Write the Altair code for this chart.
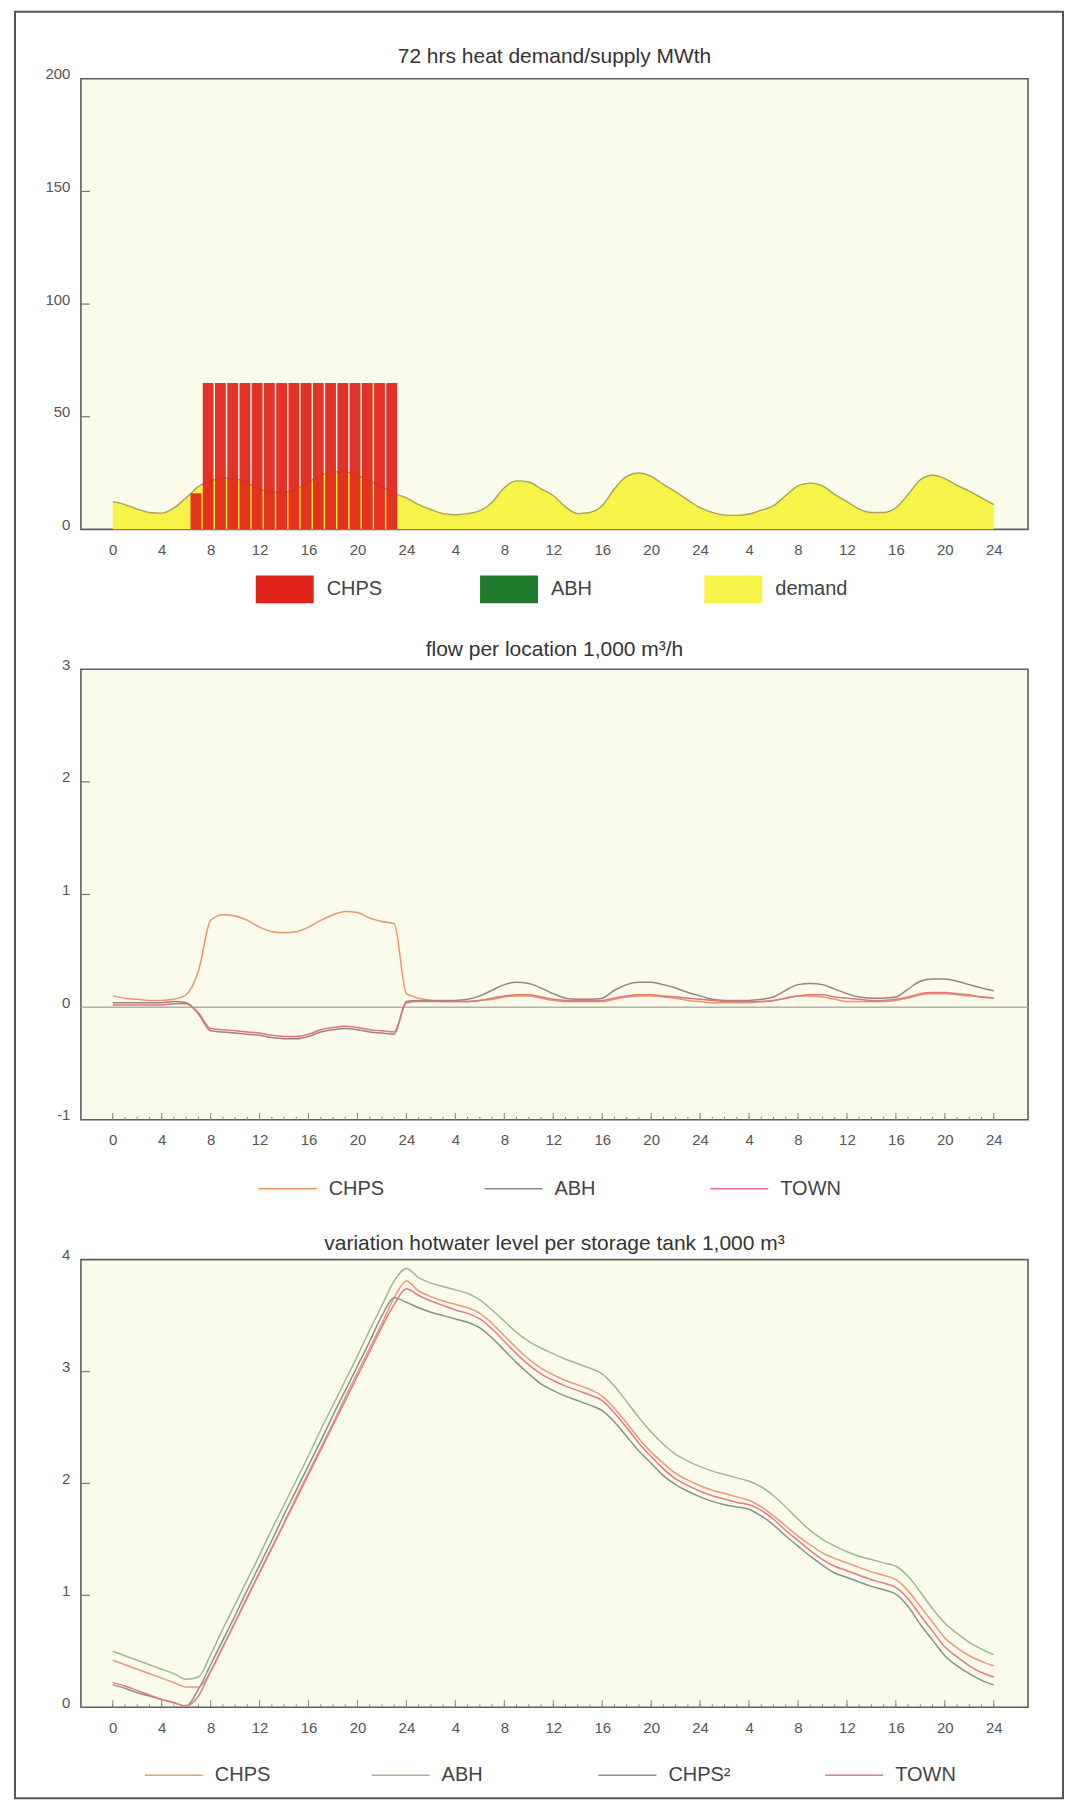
import altair as alt
import pandas as pd

FONT = "Liberation Sans"

# ---------------- data ----------------
hours = list(range(73))
tick_hours = [0, 4, 8, 12, 16, 20, 24, 28, 32, 36, 40, 44, 48, 52, 56, 60, 64, 68, 72]

titles = ["72 hrs heat demand/supply MWth",
          "flow per location 1,000 m\u00b3/h",
          "variation hotwater level per storage tank 1,000 m\u00b3"]

# panel 1: heat demand (MWth) per hour and CHPS supply blocks
demand_mw = [12.3, 11, 9, 7.5, 7.2, 9.5, 14, 19, 21.5, 22.8, 22.5, 20.5, 18, 16.5, 16.5, 18, 21, 24, 25.5, 25.5, 24, 21.5, 19, 16, 14,
             11, 8.8, 7, 6.5, 7, 8.2, 12, 18.5, 21.5, 21, 18, 15, 10, 7, 7.5, 10.5, 18, 23.5, 25, 23.5, 20, 16.7, 13, 9.6,
             7.5, 6.3, 6.2, 6.8, 8.5, 10.5, 15, 19.3, 20.5, 19.3, 15.5, 12.3, 9, 7.5, 7.5, 9.6, 15.5, 22, 24, 22.5, 19.5, 17, 14, 11]
chps_start = [6.3, 7.3, 8.3, 9.3, 10.3, 11.3, 12.3, 13.3, 14.3, 15.3, 16.3, 17.3, 18.3, 19.3, 20.3, 21.3, 22.3]
chps_mw = [16, 65, 65, 65, 65, 65, 65, 65, 65, 65, 65, 65, 65, 65, 65, 65, 65]
supply_names = ["CHPS", "ABH", "demand"]
supply_colors = ["#e1231a", "#1f7a2c", "#f6f448"]

# panel 2: flow per location (1,000 m3/h)
flow_names = ["CHPS", "ABH", "TOWN"]
flow_colors = ["#ea956a", "#98847e", "#e27482"]
flow_chps = [0.10, 0.08, 0.07, 0.06, 0.06, 0.07, 0.11, 0.32, 0.77, 0.82, 0.81, 0.77, 0.71, 0.67, 0.66, 0.67, 0.71, 0.77, 0.82, 0.85, 0.84, 0.79, 0.76, 0.74, 0.12,
             0.08, 0.06, 0.05, 0.05, 0.05, 0.06, 0.07, 0.09, 0.10, 0.10, 0.08, 0.06, 0.05, 0.05, 0.05, 0.05, 0.07, 0.09, 0.10, 0.10, 0.09, 0.08, 0.06, 0.05,
             0.04, 0.04, 0.04, 0.04, 0.05, 0.06, 0.08, 0.10, 0.10, 0.09, 0.07, 0.05, 0.05, 0.05, 0.05, 0.06, 0.08, 0.11, 0.12, 0.12, 0.11, 0.10, 0.09, 0.08]
flow_abh = [0.04, 0.04, 0.04, 0.04, 0.04, 0.05, 0.04, -0.06, -0.21, -0.22, -0.23, -0.24, -0.25, -0.27, -0.28, -0.28, -0.26, -0.22, -0.20, -0.19, -0.20, -0.22, -0.23, -0.24, 0.05,
            0.06, 0.06, 0.06, 0.06, 0.07, 0.10, 0.15, 0.20, 0.22, 0.21, 0.17, 0.12, 0.08, 0.07, 0.07, 0.08, 0.15, 0.20, 0.22, 0.22, 0.20, 0.17, 0.13, 0.10,
            0.07, 0.06, 0.06, 0.06, 0.07, 0.09, 0.15, 0.20, 0.21, 0.20, 0.16, 0.12, 0.09, 0.08, 0.08, 0.09, 0.16, 0.23, 0.25, 0.25, 0.23, 0.20, 0.17, 0.145]
flow_town = [0.02, 0.02, 0.02, 0.02, 0.02, 0.03, 0.03, -0.05, -0.19, -0.20, -0.21, -0.22, -0.23, -0.25, -0.26, -0.26, -0.24, -0.20, -0.18, -0.17, -0.18, -0.20, -0.21, -0.22, 0.04,
             0.05, 0.05, 0.05, 0.05, 0.05, 0.06, 0.08, 0.10, 0.11, 0.11, 0.09, 0.07, 0.06, 0.06, 0.06, 0.06, 0.08, 0.10, 0.11, 0.11, 0.10, 0.09, 0.08, 0.07,
             0.06, 0.05, 0.05, 0.05, 0.05, 0.06, 0.08, 0.10, 0.11, 0.11, 0.09, 0.08, 0.07, 0.06, 0.06, 0.07, 0.09, 0.12, 0.13, 0.13, 0.12, 0.11, 0.09, 0.08]

# panel 3: hot water level per storage tank (1,000 m3)
tank_names = ["CHPS", "ABH", "CHPS\u00b2", "TOWN"]
tank_colors = ["#ea9878", "#9fb894", "#7f948a", "#e37a8c"]
tank_chps = [0.42, 0.38, 0.34, 0.30, 0.26, 0.22, 0.18, 0.18, 0.32, 0.54, 0.76, 0.99, 1.21, 1.43, 1.65, 1.88, 2.10, 2.32, 2.54, 2.77, 2.99, 3.21, 3.43, 3.66, 3.81,
             3.72, 3.67, 3.63, 3.60, 3.57, 3.52, 3.43, 3.32, 3.21, 3.11, 3.03, 2.97, 2.92, 2.88, 2.84, 2.78, 2.67, 2.54, 2.40, 2.28, 2.18, 2.09, 2.03, 1.98,
             1.94, 1.91, 1.88, 1.85, 1.79, 1.71, 1.62, 1.53, 1.45, 1.38, 1.33, 1.29, 1.25, 1.21, 1.18, 1.14, 1.04, 0.90, 0.76, 0.62, 0.53, 0.46, 0.41, 0.37]
tank_abh = [0.50, 0.46, 0.42, 0.38, 0.34, 0.30, 0.25, 0.27, 0.47, 0.70, 0.92, 1.14, 1.36, 1.59, 1.81, 2.03, 2.25, 2.48, 2.70, 2.92, 3.14, 3.37, 3.59, 3.81, 3.92,
            3.84, 3.79, 3.76, 3.73, 3.70, 3.64, 3.55, 3.45, 3.35, 3.27, 3.21, 3.16, 3.11, 3.07, 3.03, 2.98, 2.87, 2.73, 2.59, 2.46, 2.35, 2.26, 2.20, 2.15,
            2.11, 2.08, 2.05, 2.02, 1.97, 1.89, 1.79, 1.68, 1.58, 1.50, 1.44, 1.39, 1.35, 1.32, 1.29, 1.26, 1.17, 1.03, 0.88, 0.75, 0.66, 0.58, 0.52, 0.47]
tank_chps2 = [0.20, 0.17, 0.13, 0.10, 0.07, 0.04, 0.01, 0.16, 0.38, 0.60, 0.82, 1.05, 1.27, 1.49, 1.72, 1.94, 2.16, 2.38, 2.61, 2.83, 3.05, 3.27, 3.50, 3.66, 3.62,
              3.57, 3.53, 3.50, 3.47, 3.44, 3.39, 3.30, 3.19, 3.08, 2.98, 2.89, 2.83, 2.78, 2.74, 2.70, 2.65, 2.55, 2.42, 2.29, 2.18, 2.07, 1.99, 1.93, 1.88,
              1.84, 1.81, 1.79, 1.77, 1.71, 1.63, 1.53, 1.44, 1.35, 1.27, 1.20, 1.16, 1.12, 1.08, 1.05, 1.01, 0.90, 0.74, 0.60, 0.46, 0.37, 0.30, 0.24, 0.20]
tank_town = [0.22, 0.19, 0.15, 0.11, 0.07, 0.04, 0.01, 0.10, 0.32, 0.54, 0.76, 0.98, 1.20, 1.42, 1.64, 1.86, 2.08, 2.30, 2.52, 2.74, 2.96, 3.18, 3.40, 3.60, 3.74,
             3.68, 3.63, 3.59, 3.55, 3.52, 3.47, 3.38, 3.27, 3.16, 3.06, 2.98, 2.92, 2.87, 2.83, 2.79, 2.74, 2.63, 2.50, 2.36, 2.24, 2.13, 2.04, 1.98, 1.93,
             1.89, 1.86, 1.83, 1.81, 1.76, 1.68, 1.58, 1.49, 1.40, 1.32, 1.26, 1.22, 1.18, 1.14, 1.11, 1.07, 0.97, 0.82, 0.68, 0.54, 0.45, 0.37, 0.31, 0.27]

y1_ticks = [0, 50, 100, 150, 200]
y2_ticks = [-1, 0, 1, 2, 3]
y3_ticks = [0, 1, 2, 3, 4]
y1_inner = [50, 100, 150]
y2_inner = [1, 2]
y3_inner = [1, 2, 3]

# ---------------- helpers ----------------
W = 948
H1, H2, H3 = 451, 451, 448
X_DOMAIN = [-2.6, 74.8]
xscale = alt.Scale(domain=X_DOMAIN, nice=False, zero=False)
x_axis = alt.Axis(values=tick_hours,
                  labelExpr="datum.value == 0 ? '0' : (datum.value % 24 == 0 ? '24' : '' + (datum.value % 24))",
                  ticks=False, domain=False, grid=False, labelPadding=13, labelFontSize=15,
                  labelFont=FONT, labelColor="#555", title=None, labelOverlap=False)


def y_axis(vals):
    return alt.Axis(values=vals, labelExpr="'' + datum.value", ticks=False, domain=False, grid=False,
                    labelPadding=11, labelBaseline="alphabetic", labelFontSize=15, labelFont=FONT,
                    labelColor="#555", title=None)


def X(field="hour"):
    return alt.X(f"{field}:Q", scale=xscale, axis=x_axis)


def title_mark(text, dy):
    return alt.Chart(pd.DataFrame({"t": [text]})).mark_text(
        font=FONT, fontSize=21, color="#333", align="center", baseline="middle").encode(
        text="t:N", x=alt.value(W / 2), y=alt.value(dy))


def legend(x, y, ncol, pad, symbol, stroke_w, label_off):
    return alt.Legend(orient="none", legendX=x, legendY=y, direction="horizontal", columns=ncol,
                      gridAlign="all", columnPadding=pad, symbolType=symbol, symbolSize=3364,
                      symbolStrokeWidth=stroke_w, labelOffset=label_off, labelFontSize=20,
                      labelFont=FONT, labelColor="#444", title=None, padding=0, symbolOpacity=1)


def inner_yticks(vals, yscale, yax):
    return alt.Chart(pd.DataFrame({"v": vals})).mark_rule(color="#777", strokeWidth=1.2).encode(
        y=alt.Y("v:Q", scale=yscale, axis=yax), x=alt.value(0), x2=alt.value(9))


def bottom_ticks(h):
    minor = alt.Chart(pd.DataFrame({"hour": hours})).mark_rule(color="#888", strokeWidth=1).encode(
        x=X(), y=alt.value(h), y2=alt.value(h - 3))
    major = alt.Chart(pd.DataFrame({"hour": tick_hours})).mark_rule(color="#888", strokeWidth=1).encode(
        x=X(), y=alt.value(h), y2=alt.value(h - 7))
    return [minor, major]


# ---------------- panel 1 ----------------
y1scale = alt.Scale(domain=[0, 200], nice=False)
y1ax = y_axis(y1_ticks)
leg1 = legend(175, 482, 3, 80.5, "M-1,-0.48H1V0.48H-1Z", 0, 13)
color1 = alt.Color("source:N", scale=alt.Scale(domain=supply_names, range=supply_colors), legend=leg1)

df_d = pd.DataFrame({"hour": hours, "mw": demand_mw, "source": "demand"})
df_b = pd.DataFrame({"start": chps_start, "mw": chps_mw, "source": "CHPS"})

frame = alt.Chart(pd.DataFrame({"k": [0]})).mark_rect(filled=False, stroke="#555", strokeWidth=2).encode(
    x=alt.value(-66), x2=alt.value(983), y=alt.value(-67), y2=alt.value(1721))
area = alt.Chart(df_d).mark_area(interpolate="monotone", opacity=1).encode(
    x=X(), y=alt.Y("mw:Q", scale=y1scale, axis=y1ax), color=color1)
dline = alt.Chart(df_d).mark_line(interpolate="monotone", color="#a8a25c", strokeWidth=1.4).encode(
    x=X(), y=alt.Y("mw:Q", scale=y1scale, axis=y1ax))
bars = alt.Chart(df_b).transform_calculate(end="datum.start + 1").mark_rect(
    xOffset=0.7, x2Offset=-0.7, opacity=0.93).encode(
    x=X("start"), x2="end:Q", y=alt.Y("mw:Q", scale=y1scale, axis=y1ax), y2=alt.datum(0), color=color1)

p1 = alt.layer(frame, area, dline, bars, inner_yticks(y1_inner, y1scale, y1ax),
               title_mark(titles[0], -22)).properties(width=W, height=H1)

# ---------------- panel 2 ----------------
y2scale = alt.Scale(domain=[-1, 3], nice=False)
y2ax = y_axis(y2_ticks)
df_f = pd.concat([
    pd.DataFrame({"hour": hours, "v": vals, "series": name})
    for name, vals in zip(flow_names, [flow_chps, flow_abh, flow_town])
])
zero = alt.Chart(pd.DataFrame({"v": [0]})).mark_rule(color="#b3b3a3", strokeWidth=1.5).encode(
    y=alt.Y("v:Q", scale=y2scale, axis=y2ax))
flines = alt.Chart(df_f).mark_line(interpolate="monotone", strokeWidth=1.5).encode(
    x=X(), y=alt.Y("v:Q", scale=y2scale, axis=y2ax),
    color=alt.Color("series:N", scale=alt.Scale(domain=flow_names, range=flow_colors),
                    legend=legend(177, 490, 3, 92, "stroke", 1.5, 11)))
p2 = alt.layer(zero, *bottom_ticks(H2), inner_yticks(y2_inner, y2scale, y2ax), flines,
               title_mark(titles[1], -19)).properties(width=W, height=H2)

# ---------------- panel 3 ----------------
y3scale = alt.Scale(domain=[0, 4], nice=False)
y3ax = y_axis(y3_ticks)
df_t = pd.concat([
    pd.DataFrame({"hour": hours, "v": vals, "tank": name})
    for name, vals in zip(tank_names, [tank_chps, tank_abh, tank_chps2, tank_town])
])
tlines = alt.Chart(df_t).mark_line(interpolate="monotone", strokeWidth=1.5).encode(
    x=X(), y=alt.Y("v:Q", scale=y3scale, axis=y3ax),
    color=alt.Color("tank:N", scale=alt.Scale(domain=tank_names, range=tank_colors),
                    legend=legend(63, 486, 4, 91, "stroke", 1.5, 11)))
p3 = alt.layer(*bottom_ticks(H3), inner_yticks(y3_inner, y3scale, y3ax), tlines,
               title_mark(titles[2], -16)).properties(width=W, height=H3)

chart = alt.vconcat(p1, p2, p3, spacing=140, bounds="flush").resolve_scale(
    color="independent", x="independent", y="independent").resolve_legend(color="independent").properties(
    padding={"left": 5, "top": 1, "right": 0, "bottom": 0}, background="white").configure(
    font=FONT).configure_view(fill="#fbfbec", stroke="#5e5e5e", strokeWidth=1.6)

chart.save("out.html", embed_options={"renderer": "svg", "actions": False})
